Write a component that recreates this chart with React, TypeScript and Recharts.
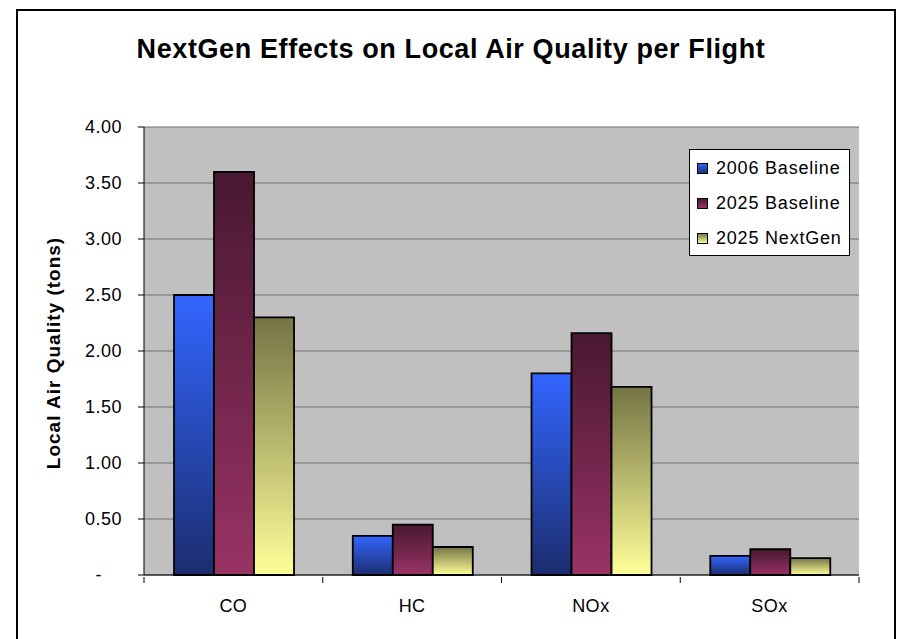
import { Bar, BarChart, CartesianGrid, Label, Legend, XAxis, YAxis } from "recharts";

// Chart data
const pollutants = ["CO", "HC", "NOx", "SOx"];
const baseline2006 = [2.5, 0.35, 1.8, 0.17];
const baseline2025 = [3.6, 0.45, 2.16, 0.23];
const nextGen2025 = [2.3, 0.25, 1.68, 0.15];
const yTicks = [0, 0.5, 1, 1.5, 2, 2.5, 3, 3.5, 4];

const FONT = '"Liberation Sans", Arial, sans-serif';

// Series styles (gradient top -> bottom)
const SERIES = [
  { key: "b2006", name: "2006 Baseline", grad: "gBlue", top: "#3366ff", bottom: "#1c2d6e" },
  { key: "b2025", name: "2025 Baseline", grad: "gPlum", top: "#481830", bottom: "#993366" },
  { key: "ng2025", name: "2025 NextGen", grad: "gSand", top: "#747445", bottom: "#ffff99" },
];

const data = pollutants.map((p, i) => ({
  pollutant: p,
  b2006: baseline2006[i],
  b2025: baseline2025[i],
  ng2025: nextGen2025[i],
}));

const YTick = ({ x, y, payload }: any) => {
  const zero = payload.value === 0;
  return (
    <text
      x={zero ? x - 20 : x}
      y={y}
      dy="0.36em"
      textAnchor="end"
      fill="#000"
      fontSize={18}
      fontFamily={FONT}
      style={{ letterSpacing: 0.5 }}
    >
      {zero ? "-" : payload.value.toFixed(2)}
    </text>
  );
};

const XTick = ({ x, y, payload, width, visibleTicksCount, index }: any) => {
  const half = width / visibleTicksCount / 2;
  const axisY = y - 6;
  return (
    <g>
      <line x1={x - half} x2={x - half} y1={axisY} y2={axisY + 6} stroke="#000" />
      {index === visibleTicksCount - 1 && (
        <line x1={x + half} x2={x + half} y1={axisY} y2={axisY + 6} stroke="#000" />
      )}
      <text
        x={x}
        y={y + 29}
        textAnchor="middle"
        fill="#000"
        fontSize={18}
        fontFamily={FONT}
        style={{ letterSpacing: 0.5 }}
      >
        {payload.value}
      </text>
    </g>
  );
};

const LegendBox = () => (
  <div
    style={{
      background: "#fff",
      border: "1px solid #000",
      padding: "1px 0 0 7px",
      width: 152,
      height: 104,
      fontFamily: FONT,
      fontSize: 18,
      letterSpacing: 0.8,
      color: "#000",
      boxSizing: "content-box",
    }}
  >
    {SERIES.map((s) => (
      <div key={s.key} style={{ height: 35, display: "flex", alignItems: "center" }}>
        <svg width={11} height={11} style={{ marginRight: 8 }}>
          <rect x={0.5} y={0.5} width={10} height={10} fill={`url(#${s.grad})`} stroke="#000" />
        </svg>
        <span>{s.name}</span>
      </div>
    ))}
  </div>
);

export default function App() {
  return (
    <div
      style={{
        position: "absolute",
        left: 0,
        top: 0,
        width: 898,
        height: 639,
        overflow: "hidden",
        background: "#fff",
      }}
    >
      <div
        style={{
          position: "absolute",
          left: 16,
          top: 9,
          width: 876,
          height: 660,
          border: "2px solid #000",
        }}
      />
      <div
        style={{
          position: "absolute",
          left: 0,
          top: 36,
          width: 902,
          textAlign: "center",
          fontFamily: FONT,
          fontWeight: "bold",
          fontSize: 27,
          lineHeight: "27px",
          letterSpacing: 0.6,
        }}
      >
        NextGen Effects on Local Air Quality per Flight
      </div>
      <div style={{ position: "absolute", left: 0, top: 0 }}>
        <BarChart
          width={898}
          height={639}
          data={data}
          margin={{ top: 127, right: 39, bottom: 34, left: 84 }}
          barCategoryGap="16.8%"
          barGap={0}
        >
          <defs>
            {SERIES.map((s) => (
              <linearGradient key={s.grad} id={s.grad} x1="0" y1="0" x2="0" y2="1">
                <stop offset="0%" stopColor={s.top} />
                <stop offset="100%" stopColor={s.bottom} />
              </linearGradient>
            ))}
          </defs>
          <CartesianGrid vertical={false} stroke="#6e6e6e" fill="#c0c0c0" fillOpacity={1} />
          <XAxis
            dataKey="pollutant"
            height={30}
            tickLine={false}
            axisLine={{ stroke: "#000" }}
            tick={<XTick />}
            interval={0}
          />
          <YAxis
            width={60}
            domain={[0, 4]}
            ticks={yTicks}
            tickSize={6}
            tickMargin={16}
            tickLine={{ stroke: "#000" }}
            axisLine={{ stroke: "#000" }}
            tick={<YTick />}
            interval={0}
          >
            <Label
              content={() => (
                <text
                  x={60}
                  y={353}
                  transform="rotate(-90, 60, 353)"
                  textAnchor="middle"
                  fontFamily={FONT}
                  fontWeight="bold"
                  fontSize={19}
                  fill="#000"
                  style={{ letterSpacing: 1 }}
                >
                  Local Air Quality (tons)
                </text>
              )}
            />
          </YAxis>
          <YAxis
            yAxisId="frame"
            orientation="right"
            width={0}
            domain={[0, 4]}
            tick={false}
            tickLine={false}
            axisLine={{ stroke: "#808080" }}
          />
          <Legend
            layout="vertical"
            align="center"
            verticalAlign="middle"
            content={<LegendBox />}
            wrapperStyle={{ left: 689, top: 149, width: 160, height: 106 }}
          />
          {SERIES.map((s) => (
            <Bar
              key={s.key}
              dataKey={s.key}
              name={s.name}
              fill={`url(#${s.grad})`}
              stroke="#000"
              strokeWidth={1.8}
              isAnimationActive={false}
            />
          ))}
        </BarChart>
      </div>
    </div>
  );
}
